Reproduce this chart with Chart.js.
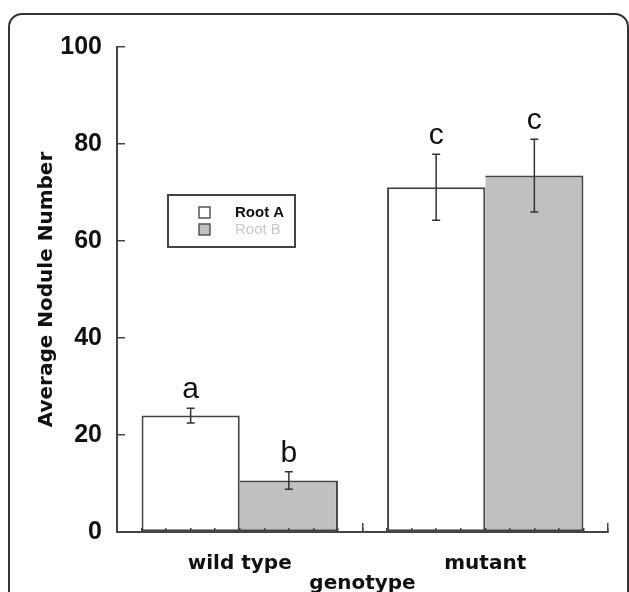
<!DOCTYPE html>
<html>
<head>
<meta charset="utf-8">
<script src="https://cdn.jsdelivr.net/npm/chart.js@4.4.0/dist/chart.umd.min.js"></script>
<style>
    html, body { margin: 0; padding: 0; background: #fff; }
    #wrap { position: relative; width: 629px; height: 592px; overflow: hidden; }
    #frame { position: absolute; left: 8px; top: 13px; width: 621px; height: 640px; border: 2px solid #333; border-radius: 14px; box-sizing: border-box; }
    #noduleChart { position: absolute; left: 0; top: 0; }
</style>
</head>
<body>
<div id="wrap">
    <div id="frame"></div>
    <canvas id="noduleChart" width="629" height="592"></canvas>
</div>
<script>
// Data
const genotypes = ['wild type', 'mutant'];
const rootA = [24, 71.1];
const rootB = [10.6, 73.5];
const rootAErr = [1.5, 6.8];
const rootBErr = [1.8, 7.5];
const rootALetters = ['a', 'c'];
const rootBLetters = ['b', 'c'];

const axisColor = '#444';
const textColor = '#111';

// error bars + significance letters, positioned through the scales
const errorBarPlugin = {
    id: 'errorBars',
    afterDatasetsDraw(chart) {
        const ctx = chart.ctx;
        const y = chart.scales.y;
        chart.data.datasets.forEach((ds, i) => {
            const meta = chart.getDatasetMeta(i);
            meta.data.forEach((bar, j) => {
                const v = ds.data[j], e = ds.errors[j];
                const top = y.getPixelForValue(v + e);
                const bot = y.getPixelForValue(v - e);
                ctx.save();
                ctx.strokeStyle = '#333';
                ctx.lineWidth = 1.5;
                ctx.beginPath();
                ctx.moveTo(bar.x, top); ctx.lineTo(bar.x, bot);
                ctx.moveTo(bar.x - 4, top); ctx.lineTo(bar.x + 4, top);
                ctx.moveTo(bar.x - 4, bot); ctx.lineTo(bar.x + 4, bot);
                ctx.stroke();
                ctx.fillStyle = textColor;
                ctx.font = '30px Arial';
                ctx.textAlign = 'center';
                ctx.textBaseline = 'alphabetic';
                ctx.fillText(ds.letters[j], bar.x, top - 10);
                ctx.restore();
            });
        });
    }
};

// small boxed legend inside the plot
const boxLegendPlugin = {
    id: 'boxLegend',
    afterDraw(chart) {
        const ctx = chart.ctx;
        const area = chart.chartArea;
        const bx = area.left + 51, by = area.top + 148;
        const textColors = ['#111', '#c8c8c8'];
        const textFonts = ['bold 15px Arial', '15px Arial'];
        ctx.save();
        ctx.strokeStyle = axisColor;
        ctx.lineWidth = 2;
        ctx.strokeRect(bx, by, 127, 52);
        chart.data.datasets.forEach((ds, i) => {
            const sy = by + 12 + i * 17;
            ctx.fillStyle = ds.backgroundColor;
            ctx.fillRect(bx + 31, sy, 11, 11);
            ctx.strokeStyle = '#555';
            ctx.lineWidth = 1.5;
            ctx.strokeRect(bx + 31, sy, 11, 11);
            ctx.fillStyle = textColors[i];
            ctx.font = textFonts[i];
            ctx.textAlign = 'left';
            ctx.textBaseline = 'middle';
            ctx.fillText(ds.label, bx + 67, sy + 6);
        });
        ctx.restore();
    }
};

new Chart(document.getElementById('noduleChart').getContext('2d'), {
    type: 'bar',
    data: {
        labels: genotypes,
        datasets: [{
            label: 'Root A',
            data: rootA,
            errors: rootAErr,
            letters: rootALetters,
            xAxisID: 'x2',
            backgroundColor: '#ffffff',
            borderColor: axisColor,
            borderWidth: 2,
            borderSkipped: false,
            categoryPercentage: 0.8,
            barPercentage: 1.0
        }, {
            label: 'Root B',
            data: rootB,
            errors: rootBErr,
            letters: rootBLetters,
            xAxisID: 'x2',
            backgroundColor: '#c0c0c0',
            borderColor: axisColor,
            borderWidth: 2,
            borderSkipped: 'left',
            categoryPercentage: 0.8,
            barPercentage: 1.0
        }]
    },
    options: {
        responsive: false,
        animation: false,
        devicePixelRatio: 1,
        layout: { padding: { left: 0, top: 47, right: 21, bottom: 0 } },
        plugins: {
            legend: { display: false },
            tooltip: { enabled: false }
        },
        scales: {
            // minor ticks along the bottom axis
            x: {
                type: 'linear',
                position: 'bottom',
                weight: 0,
                min: 0,
                max: 20,
                offset: false,
                ticks: { display: false, stepSize: 1, maxTicksLimit: 30 },
                grid: { z: 1, offset: false, drawOnChartArea: false, tickLength: -4, color: axisColor, lineWidth: 1.5 },
                border: { z: 1, display: true, color: axisColor, width: 2 },
                afterFit: s => { s.height = 0; }
            },
            x2: {
                type: 'category',
                position: 'bottom',
                weight: 1,
                offset: true,
                grid: { z: 1, offset: true, drawOnChartArea: false, tickLength: -9, color: axisColor, lineWidth: 1.5 },
                border: { display: false },
                ticks: { color: textColor, padding: 29, font: { family: 'DejaVu Sans', weight: 'bold', size: 20 } },
                title: {
                    display: true,
                    text: 'genotype',
                    color: textColor,
                    padding: 0,
                    font: { family: 'DejaVu Sans', weight: 'bold', size: 20, lineHeight: 0.8 }
                },
                afterFit: s => { s.height = 60; }
            },
            y: {
                min: 0,
                max: 100,
                ticks: { stepSize: 20, color: textColor, padding: 23, font: { family: 'Arial', weight: 'bold', size: 25 } },
                grid: { drawOnChartArea: false, tickLength: -8, color: axisColor, lineWidth: 1.5 },
                border: { color: axisColor, width: 2 },
                title: {
                    display: true,
                    text: 'Average Nodule Number',
                    color: textColor,
                    padding: { top: 35, bottom: 0 },
                    font: { family: 'DejaVu Sans', weight: 'bold', size: 20 }
                },
                afterFit: s => { s.width = 117; }
            }
        }
    },
    plugins: [errorBarPlugin, boxLegendPlugin]
});
</script>
</body>
</html>
